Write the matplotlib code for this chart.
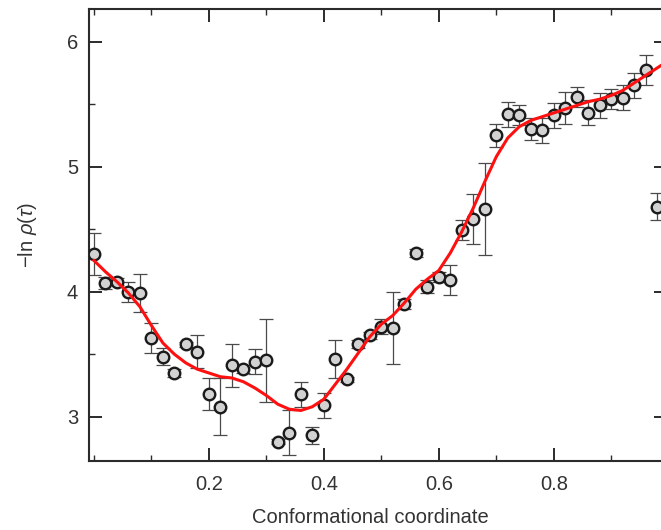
import numpy as np
import matplotlib
matplotlib.use('Agg')
import matplotlib.pyplot as plt
from matplotlib.ticker import FixedLocator

plt.rcParams['font.family'] = ['Liberation Sans', 'DejaVu Sans']
plt.rcParams['mathtext.fontset'] = 'custom'
plt.rcParams['mathtext.rm'] = 'Liberation Sans'
plt.rcParams['mathtext.it'] = 'Liberation Sans:italic'

# measured points (conformational coordinate, -ln rho, error)
coord = [0.00, 0.02, 0.04, 0.06, 0.08, 0.10, 0.12, 0.14, 0.16, 0.18,
         0.20, 0.22, 0.24, 0.26, 0.28, 0.30, 0.32, 0.34, 0.36, 0.38,
         0.40, 0.42, 0.44, 0.46, 0.48, 0.50, 0.52, 0.54, 0.56, 0.58,
         0.60, 0.62, 0.64, 0.66, 0.68, 0.70, 0.72, 0.74, 0.76, 0.78,
         0.80, 0.82, 0.84, 0.86, 0.88, 0.90, 0.92, 0.94, 0.96, 0.98]
neg_ln_rho = [4.30, 4.07, 4.08, 4.00, 3.99, 3.63, 3.48, 3.35, 3.58, 3.52,
              3.18, 3.08, 3.41, 3.38, 3.44, 3.45, 2.80, 2.87, 3.18, 2.85,
              3.09, 3.46, 3.30, 3.58, 3.65, 3.72, 3.71, 3.90, 4.31, 4.04,
              4.12, 4.09, 4.49, 4.58, 4.66, 5.25, 5.42, 5.41, 5.30, 5.29,
              5.41, 5.47, 5.56, 5.43, 5.49, 5.54, 5.55, 5.65, 5.77, 4.68]
err = [0.17, 0.05, 0.03, 0.08, 0.15, 0.12, 0.07, 0.03, 0.02, 0.13,
       0.13, 0.23, 0.17, 0.03, 0.10, 0.33, 0.02, 0.18, 0.10, 0.07,
       0.10, 0.15, 0.02, 0.03, 0.03, 0.06, 0.29, 0.04, 0.03, 0.05,
       0.04, 0.12, 0.08, 0.20, 0.37, 0.09, 0.10, 0.08, 0.09, 0.10,
       0.10, 0.13, 0.08, 0.10, 0.10, 0.08, 0.10, 0.10, 0.12, 0.11]

# smooth fit (red line)
fit_x = [0.00, 0.02, 0.04, 0.06, 0.08, 0.10, 0.12, 0.14, 0.16, 0.18,
         0.20, 0.22, 0.24, 0.26, 0.28, 0.30, 0.32, 0.34, 0.36, 0.38,
         0.40, 0.42, 0.44, 0.46, 0.48, 0.50, 0.52, 0.54, 0.56, 0.58,
         0.60, 0.62, 0.64, 0.66, 0.68, 0.70, 0.72, 0.74, 0.76, 0.78,
         0.80, 0.82, 0.84, 0.86, 0.88, 0.90, 0.92, 0.94, 0.96, 0.98, 1.00]
fit_y = [4.25, 4.16, 4.08, 3.99, 3.88, 3.73, 3.59, 3.50, 3.43, 3.38,
         3.35, 3.32, 3.31, 3.28, 3.23, 3.17, 3.10, 3.06, 3.05, 3.08,
         3.14, 3.26, 3.38, 3.51, 3.64, 3.74, 3.81, 3.91, 4.02, 4.10,
         4.17, 4.31, 4.48, 4.67, 4.88, 5.08, 5.23, 5.32, 5.37, 5.40,
         5.43, 5.46, 5.49, 5.52, 5.54, 5.57, 5.61, 5.67, 5.73, 5.79, 5.85]

fig = plt.figure(figsize=(6.61, 5.30), dpi=100)
ax = fig.add_axes([0.1351, 0.1302, 0.874, 0.8523])

ax.errorbar(coord, neg_ln_rho, yerr=err, fmt='none', ecolor='#4a4a4a',
            elinewidth=0.9, capsize=4.7, capthick=0.9, zorder=2)
ax.plot(coord, neg_ln_rho, 'o', ms=8.3, mfc='#d2d2d2', mec='#1a1a1a',
        mew=1.7, zorder=3)
ax.plot(fit_x, fit_y, color='#ff1010', lw=2.2, zorder=4)

ax.set_xlim(-0.008, 0.997)
ax.set_ylim(2.646, 6.259)

ax.xaxis.set_major_locator(FixedLocator([0.2, 0.4, 0.6, 0.8]))
ax.xaxis.set_minor_locator(FixedLocator([0.0, 0.1, 0.3, 0.5, 0.7, 0.9]))
ax.yaxis.set_major_locator(FixedLocator([3, 4, 5, 6]))
ax.yaxis.set_minor_locator(FixedLocator([3.5, 4.5, 5.5]))

ax.tick_params(which='both', direction='in', top=True, right=True,
               color='#2b2b2b', labelcolor='#333333', labelsize=14.5)
ax.tick_params(which='major', length=9.5, width=1.4)
ax.tick_params(which='minor', length=4.5, width=1.0)
ax.tick_params(axis='x', which='major', pad=10)
ax.tick_params(axis='y', which='major', pad=8)

for s in ax.spines.values():
    s.set_linewidth(1.5)
    s.set_color('#2b2b2b')

ax.set_xlabel('Conformational coordinate', fontsize=14.5, color='#333333',
              labelpad=11)
ax.xaxis.set_label_coords(0.487, -0.105)
ax.set_ylabel(r'$-\mathrm{ln}\ \rho(\tau)$', fontsize=14.5, color='#333333',
              labelpad=20)

fig.savefig('out.png', dpi=100)
